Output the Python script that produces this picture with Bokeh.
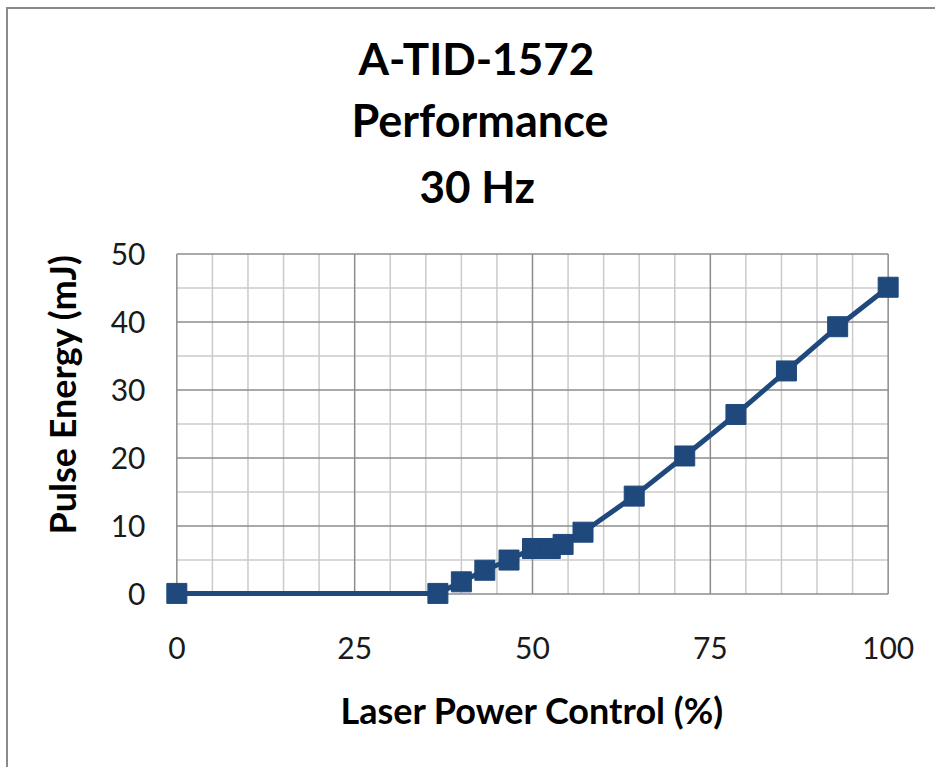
from bokeh.plotting import figure
from bokeh.models import Range1d, FixedTicker, Title
from bokeh.embed import file_html
from bokeh.resources import INLINE

# ---- data ----
power_pct = [0, 36.7, 40, 43.3, 46.7, 50, 52.5, 54.3, 57.1, 64.3, 71.4, 78.6, 85.7, 92.9, 100]
energy_mj = [0.1, 0.1, 1.8, 3.5, 5.0, 6.7, 6.7, 7.3, 9.1, 14.4, 20.3, 26.4, 32.8, 39.3, 45.1]
x_ticks = [0, 25, 50, 75, 100]
y_ticks = [0, 10, 20, 30, 40, 50]
x_grid = list(range(0, 101, 5))
y_grid = list(range(0, 51, 5))
title_lines = ["A-TID-1572", "Performance", "30 Hz"]
x_label = "Laser Power Control (%)"
y_label = "Pulse Energy (mJ)"

FONT = "Lato"
BLUE = "#1F497D"
MAJOR = "#8C8C8C"
MINOR = "#CBCBCB"

p = figure(
    title=None,
    output_backend="svg", toolbar_location=None,
    x_range=Range1d(-3, 103), y_range=Range1d(-3, 53),
    frame_width=754, frame_height=381,
    min_border_left=147, min_border_right=26,
    min_border_top=224, min_border_bottom=153,
)
p.styles = {"margin-left": "6px", "margin-top": "7px",
            "border-left": "2px solid #8A8A8A", "border-top": "2px solid #8A8A8A"}
p.outline_line_color = None
p.background_fill_color = "white"
p.border_fill_color = "white"
p.xgrid.visible = False
p.ygrid.visible = False

# grid lines derived from tick lists
xmin, xmax = x_grid[0], x_grid[-1]
ymin, ymax = y_grid[0], y_grid[-1]
xmin_g = [v for v in x_grid if v not in x_ticks]
ymin_g = [v for v in y_grid if v not in y_ticks]
p.segment(x0=xmin_g, x1=xmin_g, y0=[ymin] * len(xmin_g), y1=[ymax] * len(xmin_g),
          line_color=MINOR, line_width=1.5)
p.segment(x0=[xmin] * len(ymin_g), x1=[xmax] * len(ymin_g), y0=ymin_g, y1=ymin_g,
          line_color=MINOR, line_width=1.5)
p.segment(x0=x_ticks, x1=x_ticks, y0=[ymin] * len(x_ticks), y1=[ymax] * len(x_ticks),
          line_color=MAJOR, line_width=1.5)
p.segment(x0=[xmin] * len(y_ticks), x1=[xmax] * len(y_ticks), y0=y_ticks, y1=y_ticks,
          line_color=MAJOR, line_width=1.5)

# series
p.line(power_pct, energy_mj, line_color=BLUE, line_width=5)
p.scatter(power_pct, energy_mj, marker="square", size=20, fill_color=BLUE, line_color=BLUE)

# axes
for ax in (p.xaxis[0], p.yaxis[0]):
    ax.axis_line_color = None
    ax.major_tick_line_color = None
    ax.minor_tick_line_color = None
    ax.major_label_text_font = FONT
    ax.major_label_text_font_size = "30px"
    ax.major_label_text_color = "#1A1A1A"
p.xaxis[0].ticker = FixedTicker(ticks=x_ticks)
p.yaxis[0].ticker = FixedTicker(ticks=y_ticks)
p.xaxis[0].major_label_standoff = 16
p.yaxis[0].major_label_standoff = 4
p.xaxis[0].axis_label = x_label
p.xaxis[0].axis_label_text_font = FONT
p.xaxis[0].axis_label_text_font_size = "36px"
p.xaxis[0].axis_label_text_font_style = "bold"
p.xaxis[0].axis_label_text_color = "black"
p.xaxis[0].axis_label_standoff = 26

# y-axis title
p.add_layout(Title(text=y_label, align="left", offset=80, text_font=FONT,
                   text_font_size="36px", text_font_style="bold",
                   text_color="black", standoff=48), "left")

# three-line chart title (innermost first)
title_offsets = [203, 196, 264]
title_standoffs = [36, -22, 44]
title_sizes = ["44px", "45px", "44px"]
for t, off, so, fs in reversed(list(zip(title_lines, title_offsets, title_standoffs, title_sizes))):
    p.add_layout(Title(text=t, align="left", offset=off, text_font=FONT,
                       text_font_size=fs, text_font_style="bold",
                       text_color="black", standoff=so), "above")

open("out.html", "w").write(file_html(p, INLINE))
